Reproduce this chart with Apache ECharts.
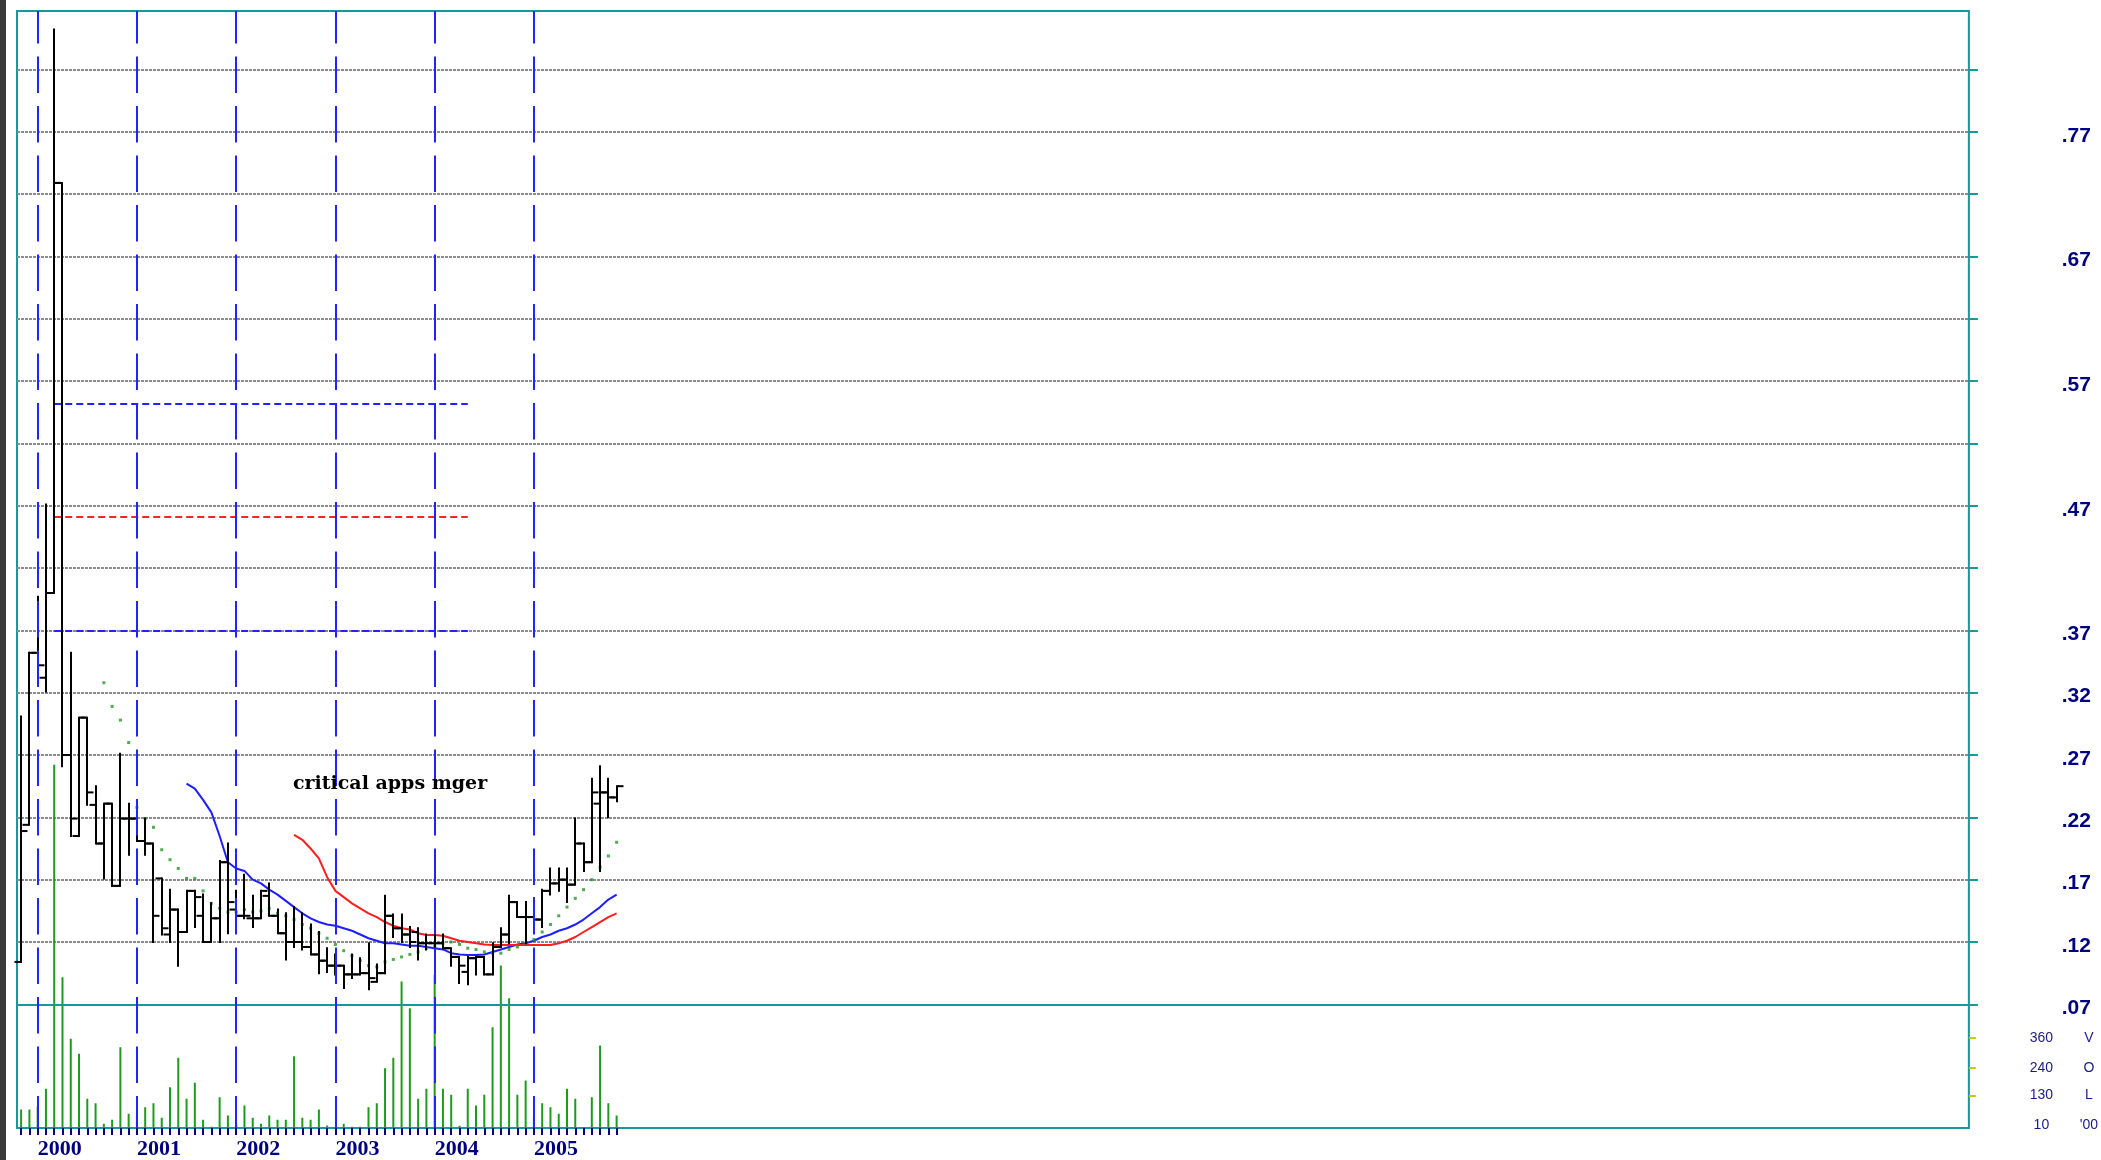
<!DOCTYPE html>
<html><head><meta charset="utf-8">
<script src="https://cdn.jsdelivr.net/npm/echarts@6/dist/echarts.min.js"></script>
<style>html,body{margin:0;padding:0;background:#fff;}#c{width:2101px;height:1160px;}</style>
</head><body><div id="c"></div>
<script>
// ---------------- data ----------------
const yearLabels = ['2000','2001','2002','2003','2004','2005'];
const firstYear = 1999, firstMonth = 11, slotCount = 236;

const open  = [0.104,0.214,0.352,0.332,0.400,0.729,0.270,0.205,0.300,0.230,
               0.199,0.231,0.165,0.219,0.219,0.201,0.199,0.171,0.126,0.146,
               0.128,0.161,0.141,0.120,0.139,0.184,0.146,0.141,0.139,0.139,
               0.157,0.141,0.127,0.120,0.120,0.116,0.110,0.105,0.101,0.101,
               0.094,0.094,0.095,0.088,0.095,0.141,0.131,0.126,0.128,0.119,
               0.119,0.119,0.115,0.108,0.096,0.107,0.108,0.094,0.116,0.126,
               0.152,0.140,0.140,0.138,0.161,0.167,0.170,0.166,0.199,0.184,
               0.231,0.240,0.236];
const high  = [0.301,0.352,0.397,0.471,0.852,0.729,0.352,0.300,0.300,0.245,
               0.231,0.231,0.271,0.231,0.228,0.219,0.199,0.171,0.162,0.146,
               0.161,0.161,0.158,0.151,0.185,0.199,0.161,0.174,0.157,0.161,
               0.167,0.146,0.143,0.148,0.143,0.134,0.128,0.115,0.110,0.101,
               0.110,0.107,0.119,0.102,0.157,0.142,0.142,0.132,0.131,0.126,
               0.126,0.126,0.115,0.108,0.108,0.108,0.108,0.119,0.131,0.157,
               0.152,0.152,0.155,0.162,0.179,0.179,0.179,0.219,0.199,0.251,
               0.261,0.251,0.245];
const low   = [0.104,0.214,0.331,0.321,0.400,0.261,0.205,0.205,0.230,0.199,
               0.171,0.165,0.165,0.190,0.201,0.190,0.120,0.126,0.120,0.101,
               0.128,0.132,0.120,0.120,0.120,0.127,0.139,0.139,0.132,0.139,
               0.141,0.127,0.106,0.116,0.114,0.110,0.095,0.096,0.094,0.083,
               0.091,0.094,0.082,0.088,0.095,0.124,0.120,0.116,0.106,0.114,
               0.116,0.115,0.101,0.087,0.086,0.094,0.094,0.094,0.116,0.119,
               0.140,0.119,0.134,0.132,0.158,0.161,0.152,0.166,0.177,0.184,
               0.177,0.220,0.233];
const close = [0.209,0.352,0.342,0.400,0.729,0.270,0.219,0.300,0.240,0.199,
               0.231,0.165,0.219,0.219,0.201,0.199,0.141,0.131,0.146,0.128,
               0.161,0.156,0.120,0.139,0.184,0.152,0.141,0.141,0.139,0.161,
               0.141,0.127,0.120,0.120,0.116,0.110,0.105,0.101,0.101,0.094,
               0.094,0.095,0.091,0.095,0.141,0.131,0.126,0.120,0.119,0.119,
               0.119,0.115,0.108,0.101,0.107,0.108,0.094,0.116,0.126,0.152,
               0.140,0.140,0.138,0.161,0.167,0.170,0.166,0.199,0.184,0.240,
               0.240,0.236,0.245];
const volume = [74,74,85,157,1453,603,357,297,117,99,
                17,33,323,57,50,83,99,41,163,281,
                117,181,33,5,123,50,17,90,41,17,
                50,33,33,287,41,33,74,10,3,17,
                5,5,83,99,239,281,586,479,117,157,
                613,157,133,9,157,90,133,403,650,519,
                133,190,50,99,83,57,157,117,3,123,
                330,99,50];
const maBlue = [null,null,null,null,null,null,null,null,null,null,
                null,null,null,null,null,null,null,null,null,null,
                0.247,0.243,0.234,0.224,0.205,0.184,0.179,0.177,0.170,0.167,
                0.162,0.158,0.153,0.148,0.143,0.139,0.136,0.134,0.133,0.131,
                0.129,0.126,0.123,0.121,0.119,0.119,0.118,0.117,0.117,0.116,
                0.115,0.114,0.111,0.110,0.1095,0.1095,0.110,0.112,0.114,0.116,
                0.118,0.119,0.121,0.124,0.126,0.129,0.131,0.134,0.138,0.143,
                0.148,0.154,0.158];
const maRed = [null,null,null,null,null,null,null,null,null,null,
               null,null,null,null,null,null,null,null,null,null,
               null,null,null,null,null,null,null,null,null,null,
               null,null,null,0.206,0.202,0.195,0.187,0.172,0.161,0.156,
               0.151,0.147,0.143,0.140,0.136,0.133,0.131,0.130,0.127,0.1256,
               0.1256,0.125,0.123,0.121,0.120,0.119,0.118,0.1176,0.1176,0.1176,
               0.1176,0.1176,0.1176,0.1176,0.1176,0.119,0.121,0.124,0.128,0.132,
               0.136,0.140,0.143];
const maGreen = [null,null,null,null,null,null,null,null,null,null,
                 0.328,0.309,0.298,0.280,0.228,0.219,0.212,0.194,0.186,0.179,
                 0.171,0.171,0.161,0.151,0.147,0.144,0.144,0.146,0.144,0.145,
                 0.147,0.143,0.141,0.138,0.134,0.131,0.127,0.123,0.118,0.113,
                 0.109,0.105,0.101,0.100,0.104,0.106,0.108,0.110,0.112,0.115,
                 0.117,0.119,0.120,0.118,0.115,0.114,0.112,0.111,0.111,0.114,
                 0.116,0.119,0.122,0.128,0.134,0.141,0.148,0.155,0.162,0.170,
                 0.180,0.189,0.200];
const priceGridTicks  = [0.07,0.12,0.17,0.22,0.27,0.32,0.37,0.42,0.47,0.52,0.57,0.62,0.67,0.72,0.77,0.82];
const priceLabelTicks = [0.07,0.12,0.17,0.22,0.27,0.32,0.37,0.47,0.57,0.67,0.77];
const volLabelTicks = [10,130,240,360];
const volLabelTags  = ["'00",'L','O','V'];
const volMarkTicks  = [130,240,360];
const levelValues = [0.552,0.461,0.370];
const levelColors = ['#2323ff','#ff2323','#2323ff'];
const levelFrom = 4, levelTo = 54;
const annotation = 'critical apps mger';

// ---------------- build ----------------
const months = [];
for (let i = 0; i < slotCount; i++) {
  const k = firstMonth - 1 + i;
  months.push((firstYear + Math.floor(k / 12)) + '-' + String(k % 12 + 1).padStart(2, '0'));
}
const isYearStart = v => v.slice(5) === '01' && yearLabels.indexOf(v.slice(0, 4)) >= 0;
const yearIdx = months.map((m, i) => isYearStart(m) ? i : -1).filter(i => i >= 0);

const PMIN = -0.02925, PMAX = 0.86694;
const ohlc = open.map((o, i) => [i, o, high[i], low[i], close[i]]);
const greenPts = [];
maGreen.forEach((v, i) => { if (v != null) greenPts.push([i, v]); });

const teal = '#139a9a';
const chart = echarts.init(document.getElementById('c'), null, {renderer: 'canvas'});
chart.setOption({
  animation: false,
  backgroundColor: '#ffffff',
  grid: {left: 17, right: 132, top: 11, bottom: 32, show: true, borderColor: teal, borderWidth: 2, backgroundColor: 'transparent'},
  xAxis: {
    type: 'category', data: months, boundaryGap: true, position: 'bottom',
    axisLine: {show: false, onZero: false},
    axisTick: {show: true, alignWithLabel: true, interval: (i) => i < open.length, length: 7,
               lineStyle: {color: '#000080', width: 2}},
    axisLabel: {interval: (i, v) => isYearStart(v), formatter: v => v.slice(0, 4), align: 'left', margin: 10,
                color: '#000080', fontFamily: 'Liberation Serif', fontWeight: 'bold', fontSize: 22},
    splitLine: {show: false}
  },
  yAxis: [{
    type: 'value', position: 'right', min: PMIN, max: PMAX, scale: false,
    axisLine: {show: false},
    axisTick: {show: true, customValues: priceGridTicks, length: 9, lineStyle: {color: teal, width: 2}},
    axisLabel: {customValues: priceLabelTicks, formatter: v => '{p|' + v.toFixed(2).slice(1) + '}', align: 'right', margin: 122,
                rich: {p: {padding: [8, 0, 0, 0], color: '#000080', fontFamily: 'Liberation Sans', fontWeight: 'bold', fontSize: 21}}},
    splitLine: {show: true, lineStyle: {color: '#8c8c8c', width: 2, type: [3, 1]}}
  }, {
    type: 'value', position: 'right', min: 0, max: 4468,
    axisLine: {show: false}, splitLine: {show: false},
    axisTick: {show: true, customValues: volMarkTicks, length: 7, lineStyle: {color: '#c8c800', width: 2}},
    axisLabel: {customValues: volLabelTicks, margin: 60,
                formatter: v => '{n|' + v + '}{t|' + volLabelTags[volLabelTicks.indexOf(v)] + '}',
                rich: {n: {width: 25, align: 'right', fontSize: 14, color: '#1a1a8c', fontFamily: 'Liberation Sans'},
                       t: {width: 70, align: 'center', fontSize: 14, color: '#1a1a8c', fontFamily: 'Liberation Sans'}}}
  }],
  series: [
    {type: 'bar', name: 'volume', yAxisIndex: 1, data: volume, barWidth: 2, z: 1,
     itemStyle: {color: '#1e9a1e'}, silent: true},
    {type: 'line', name: 'maBlue', data: maBlue, symbol: 'none', z: 3, silent: true,
     lineStyle: {color: '#1e1eff', width: 2},
     markLine: {silent: true, symbol: 'none', label: {show: false}, z: 3,
       data: levelValues.map((v, k) => [
         {coord: [months[levelFrom], v], lineStyle: {color: levelColors[k], width: 2, type: [7, 4]}},
         {coord: [months[levelTo], v]}])}},
    {type: 'line', name: 'maRed', data: maRed, symbol: 'none', z: 3, silent: true,
     lineStyle: {color: '#ff1e1e', width: 2}},
    {type: 'scatter', name: 'maGreen', data: greenPts, symbol: 'rect', symbolSize: 3, z: 3, silent: true,
     itemStyle: {color: '#229922'}},
    {type: 'custom', name: 'ohlc', data: ohlc, z: 5, silent: true,
     encode: {x: 0, y: [1, 2, 3, 4]},
     renderItem: function (params, api) {
       const i = api.value(0);
       const pO = api.coord([i, api.value(1)]);
       const pH = api.coord([i, api.value(2)]);
       const pL = api.coord([i, api.value(3)]);
       const pC = api.coord([i, api.value(4)]);
       const x = Math.round(pH[0]);
       const t = 6.5;
       const st = {stroke: '#000', lineWidth: 2};
       return {type: 'group', children: [
         {type: 'line', shape: {x1: x, y1: pH[1] - 1, x2: x, y2: pL[1] + 1}, style: st},
         {type: 'line', shape: {x1: x - t, y1: pO[1], x2: x, y2: pO[1]}, style: st},
         {type: 'line', shape: {x1: x, y1: pC[1], x2: x + t, y2: pC[1]}, style: st}
       ]};
     }},
    {type: 'line', name: 'guides', data: [], z: 8, silent: true, symbol: 'none',
     markLine: {silent: true, symbol: 'none', label: {show: false}, z: 8,
       data: [[{coord: [months[0], 0.07], x: 17, lineStyle: {color: teal, width: 2, type: 'solid'}},
               {coord: [months[0], 0.07], x: 1969}]]
         .concat(yearIdx.map(i => [
           {coord: [months[i], PMAX], lineStyle: {color: '#2323ff', width: 2, type: [36.5, 13], dashOffset: 4}},
           {coord: [months[i], PMIN]}]))}}
  ],
  graphic: [
    {type: 'rect', shape: {x: 0, y: 0, width: 6, height: 1160}, style: {fill: '#3a3a3a'}, z: 100},
    {type: 'text', left: 293, top: 775, z: 100,
     style: {text: annotation, font: 'bold 19px "DejaVu Serif"', fill: '#000'}}
  ]
});
</script></body></html>
